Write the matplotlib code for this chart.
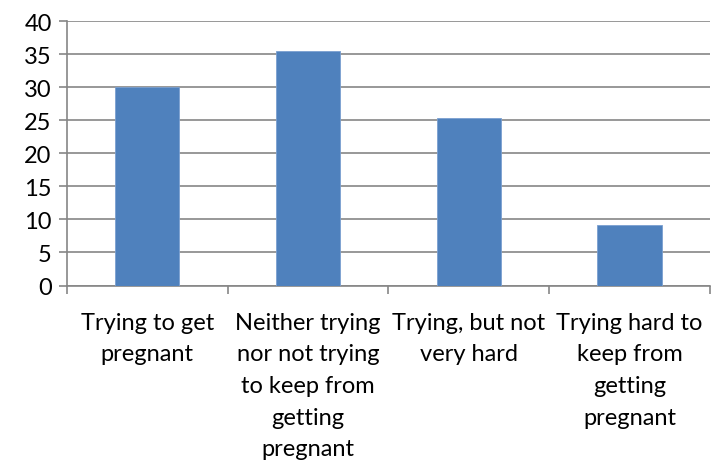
import matplotlib
matplotlib.use("Agg")
import matplotlib.pyplot as plt
import numpy as np

categories = [
    "Trying to get\npregnant",
    "Neither trying\nnor not trying\nto keep from\ngetting\npregnant",
    "Trying, but not\nvery hard",
    "Trying hard to\nkeep from\ngetting\npregnant",
]
values = [30.0, 35.5, 25.3, 9.1]

bar_color = "#4F81BD"
grid_color = "#868686"

plt.rcParams["font.family"] = ["Lato", "DejaVu Sans"]

fig = plt.figure(figsize=(7.2, 4.64), dpi=100)
ax = fig.add_axes([0.093, 0.3825, 0.893, 0.570])

x = np.arange(len(categories))
ax.bar(x, values, width=0.4, color=bar_color, edgecolor="#7a9fd0", linewidth=0.6, zorder=3)

ax.set_ylim(0, 40)
ax.set_xlim(-0.5, len(categories) - 0.5)
ax.set_yticks(np.arange(0, 41, 5))
ax.yaxis.grid(True, color=grid_color, linewidth=1.2, zorder=0)

# category labels centred, tick marks on the boundaries
ax.set_xticks(x)
ax.set_xticklabels(categories, fontsize=17, linespacing=1.62)
ax.set_xticks(np.arange(-0.5, len(categories), 1.0), minor=True)
ax.tick_params(axis="x", which="major", length=0, pad=19)
ax.tick_params(axis="x", which="minor", length=6, width=1.2, color=grid_color, direction="out")
ax.tick_params(axis="y", length=6, width=1.2, color=grid_color, labelsize=17, pad=5)

for side in ["top", "right"]:
    ax.spines[side].set_visible(False)
for side in ["left", "bottom"]:
    ax.spines[side].set_color(grid_color)
    ax.spines[side].set_linewidth(1.2)

fig.savefig("out.png", dpi=100)
